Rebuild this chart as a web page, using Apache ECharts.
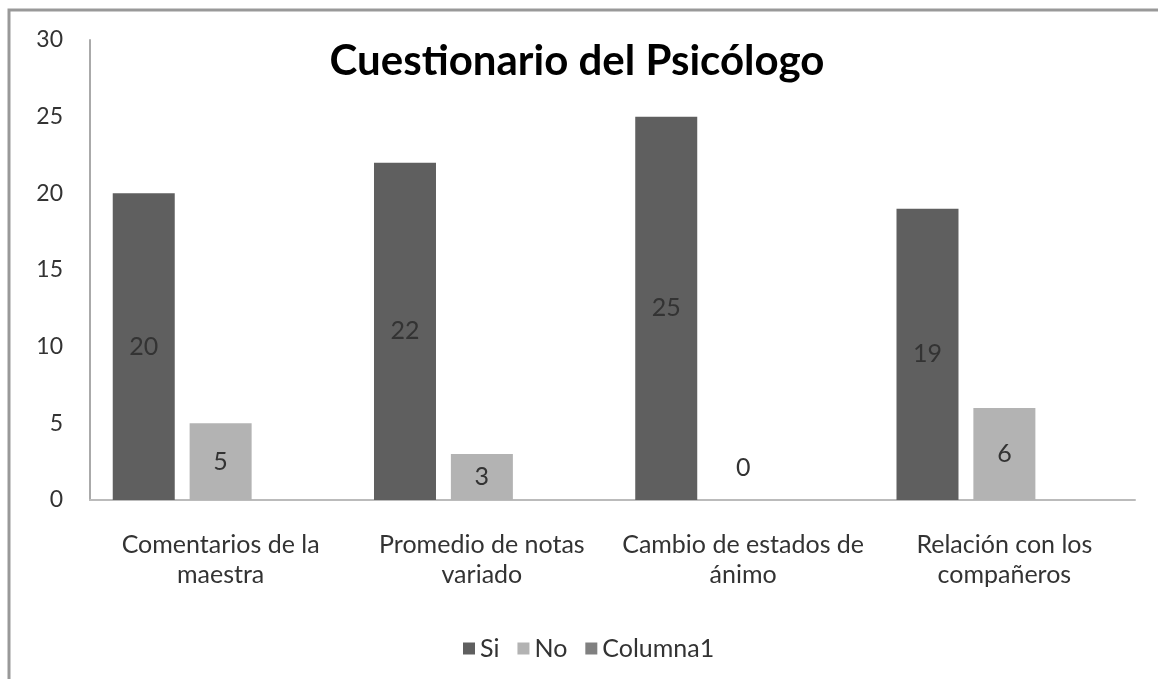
<!DOCTYPE html>
<html>
<head>
<meta charset="utf-8">
<script src="https://cdn.jsdelivr.net/npm/echarts@6/dist/echarts.min.js"></script>
<style>
  html, body { margin: 0; padding: 0; background: #fff; }
  #main { width: 1158px; height: 679px; }
</style>
</head>
<body>
<div id="main"></div>
<script>
// datos del gráfico
const categories = [
  "Comentarios de la\nmaestra",
  "Promedio de notas\nvariado",
  "Cambio de estados de\nánimo",
  "Relación con los\ncompañeros"
];
const siValues = [20, 22, 25, 19];
const noValues = [5, 3, 0, 6];
const columna1Values = [null, null, null, null];
const yTicks = [0, 5, 10, 15, 20, 25, 30];

const font = "Lato, 'Open Sans', sans-serif";
const textColor = "#333";

const chart = echarts.init(document.getElementById("main"));

const labelStyle = {
  show: true,
  position: "inside",
  color: textColor,
  fontFamily: font,
  fontSize: 25
};

const option = {
  animation: false,
  backgroundColor: "#fff",
  title: {
    text: "Cuestionario del Psicólogo",
    left: 572,
    top: 35,
    textAlign: "center",
    textStyle: { fontFamily: font, fontSize: 42, fontWeight: "bold", color: "#000" }
  },
  // marco de la imagen (solo arriba e izquierda)
  graphic: [
    {
      type: "polyline",
      shape: { points: [[9, 679], [9, 10], [1158, 10]] },
      style: { stroke: "#999", lineWidth: 3, fill: null }
    }
  ],
  legend: {
    data: ["Si", "No", "Columna1"],
    left: 458,
    top: 631,
    itemWidth: 12,
    itemHeight: 12,
    itemGap: 18,
    icon: "rect",
    textStyle: { fontFamily: font, fontSize: 25, color: textColor }
  },
  grid: { left: 90, right: 23, top: 40, bottom: 179, containLabel: false },
  xAxis: {
    type: "category",
    data: categories,
    axisLine: { lineStyle: { color: "#bbb", width: 2 } },
    axisTick: { show: false },
    axisLabel: {
      interval: 0,
      margin: 30,
      lineHeight: 30,
      fontFamily: font,
      fontSize: 25,
      color: textColor
    }
  },
  yAxis: {
    type: "value",
    min: yTicks[0],
    max: yTicks[yTicks.length - 1],
    interval: 5,
    axisLine: { show: true, lineStyle: { color: "#aaa", width: 2 } },
    axisTick: { show: false },
    splitLine: { show: false },
    axisLabel: { margin: 27, fontFamily: font, fontSize: 23, color: textColor }
  },
  series: [
    {
      name: "Si",
      type: "bar",
      data: siValues,
      barWidth: 62,
      barGap: "24%",
      itemStyle: { color: "#5f5f5f" },
      label: labelStyle
    },
    {
      name: "No",
      type: "bar",
      data: noValues.map(v => v === 0
        ? { value: v, label: { position: "top", distance: 20 } }
        : v),
      barWidth: 62,
      barGap: "24%",
      itemStyle: { color: "#b3b3b3" },
      label: labelStyle
    },
    {
      name: "Columna1",
      type: "bar",
      data: columna1Values,
      barWidth: 62,
      barGap: "24%",
      itemStyle: { color: "#808080" }
    }
  ]
};

chart.setOption(option);
</script>
</body>
</html>
